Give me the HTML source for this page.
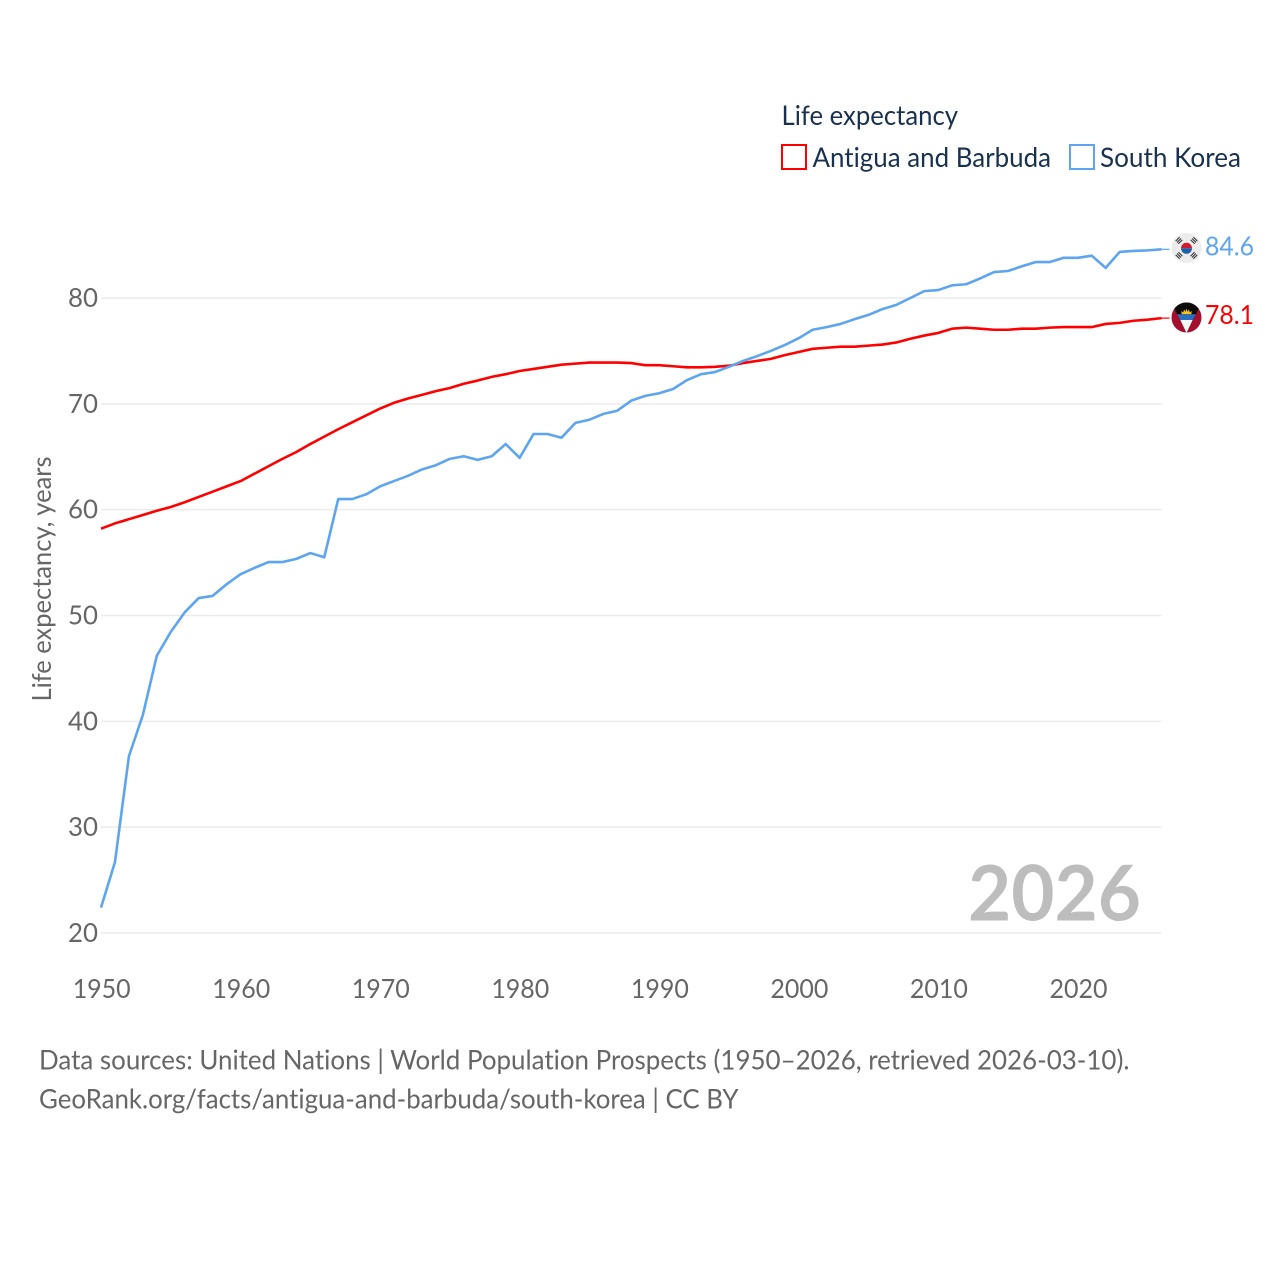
<!DOCTYPE html>
<html lang="en">
<head>
<meta charset="utf-8">
<title>Life expectancy: Antigua and Barbuda vs South Korea</title>
<style>
html,body{margin:0;padding:0;background:#fff;}
svg{display:block;}
text{font-family:"Lato","Carlito","Liberation Sans",sans-serif;font-variant-ligatures:none;}
</style>
</head>
<body>
<svg id="chart" width="1280" height="1280" viewBox="0 0 1280 1280" xmlns="http://www.w3.org/2000/svg">
  <rect width="1280" height="1280" fill="#ffffff"/>
  <g id="grid"></g>
  <g id="yticks"></g>
  <g id="xticks"></g>
  <text transform="translate(51,579) rotate(-90)" text-anchor="middle" font-size="26" fill="#666666" textLength="245" lengthAdjust="spacingAndGlyphs">Life expectancy, years</text>
  <text x="1141" y="920.500" text-anchor="end" font-size="77" font-weight="bold" fill="#bdbdbd" textLength="173" lengthAdjust="spacingAndGlyphs">2026</text>
  <g id="series"></g>

  <g>
    <text x="781.500" y="125" font-size="27" fill="#18314f" textLength="176.500" lengthAdjust="spacingAndGlyphs">Life expectancy</text>
    <rect x="782" y="145" width="24" height="24" fill="none" stroke="#ff0000" stroke-width="2"/>
    <text x="812.500" y="167" font-size="27" fill="#18314f" textLength="238.500" lengthAdjust="spacingAndGlyphs">Antigua and Barbuda</text>
    <rect x="1070" y="145" width="24" height="24" fill="none" stroke="#5da5f0" stroke-width="2"/>
    <text x="1100" y="167" font-size="27" fill="#18314f" textLength="141" lengthAdjust="spacingAndGlyphs">South Korea</text>
  </g>

  <defs>
    <clipPath id="ag-clip"><circle cx="1186.500" cy="317.500" r="15"/></clipPath>
  </defs>
  <g>
    <circle cx="1186.500" cy="248" r="15" fill="#ececec"/>
    <path d="M1181 248.300a5.500 5.500 0 0 1 11 0z" fill="#d01c2e"/>
    <path d="M1181 248.300a5.500 5.500 0 0 0 11 0z" fill="#1f5fa8"/>
    <g fill="#3a3a3a">
      <g transform="translate(1179,240.500) rotate(-45)"><rect x="-2.800" y="-2.500" width="5.600" height="1.100"/><rect x="-2.800" y="-.6" width="5.600" height="1.100"/><rect x="-2.800" y="1.300" width="5.600" height="1.100"/></g>
      <g transform="translate(1194,240.500) rotate(45)"><rect x="-2.800" y="-2.500" width="5.600" height="1.100"/><rect x="-2.800" y="-.6" width="5.600" height="1.100"/><rect x="-2.800" y="1.300" width="5.600" height="1.100"/></g>
      <g transform="translate(1179,255.500) rotate(45)"><rect x="-2.800" y="-2.500" width="5.600" height="1.100"/><rect x="-2.800" y="-.6" width="5.600" height="1.100"/><rect x="-2.800" y="1.300" width="5.600" height="1.100"/></g>
      <g transform="translate(1194,255.500) rotate(-45)"><rect x="-2.800" y="-2.500" width="5.600" height="1.100"/><rect x="-2.800" y="-.6" width="5.600" height="1.100"/><rect x="-2.800" y="1.300" width="5.600" height="1.100"/></g>
    </g>
  </g>
  <g clip-path="url(#ag-clip)">
    <rect x="1171" y="302" width="31" height="31" fill="#a50f2d"/>
    <path d="M1171 302h31l-15.500 31z" fill="#0b0b0b"/>
    <path d="M1181.700 314.300l-.5-3.300 2 1.500.9-3 1.400 2.300 1-3.300 1 3.300 1.400-2.300.9 3 2-1.500-.5 3.300z" fill="#f5c518"/>
    <path d="M1177.200 314.300h18.600l-2.900 5.700h-12.800z" fill="#2a6fc0"/>
    <path d="M1180.300 320h12.400l-6.200 13z" fill="#f4f4f4"/>
  </g>

  <g>
    <text x="39" y="1069.500" font-size="27" fill="#666666" textLength="1090.500" lengthAdjust="spacingAndGlyphs">Data sources: United Nations | World Population Prospects (1950–2026, retrieved 2026-03-10).</text>
    <text x="39" y="1108.500" font-size="27" fill="#666666" textLength="699.500" lengthAdjust="spacingAndGlyphs">GeoRank.org/facts/antigua-and-barbuda/south-korea | CC BY</text>
  </g>
</svg>
<script>
const startYear = 1950;
const xTickYears = [1950, 1960, 1970, 1980, 1990, 2000, 2010, 2020];
const yTickValues = [20, 30, 40, 50, 60, 70, 80];
const antiguaValues = [
  58.2, 58.7, 59.1, 59.5, 59.9, 60.25, 60.7, 61.2, 61.7, 62.2,
  62.7, 63.4, 64.1, 64.8, 65.45, 66.2, 66.9, 67.6, 68.25, 68.9,
  69.55, 70.1, 70.5, 70.85, 71.2, 71.5, 71.9, 72.2, 72.55, 72.8,
  73.1, 73.3, 73.5, 73.7, 73.8, 73.9, 73.9, 73.9, 73.85, 73.65,
  73.65, 73.55, 73.45, 73.45, 73.5, 73.6, 73.85, 74.05, 74.25, 74.6,
  74.9, 75.2, 75.3, 75.4, 75.4, 75.5, 75.6, 75.8, 76.15, 76.45,
  76.7, 77.1, 77.2, 77.1, 77.0, 77.0, 77.1, 77.1, 77.2, 77.25,
  77.25, 77.25, 77.55, 77.65, 77.85, 77.95, 78.1
];
const koreaValues = [
  22.4, 26.7, 36.7, 40.6, 46.2, 48.45, 50.3, 51.65, 51.85, 52.95,
  53.9, 54.5, 55.05, 55.05, 55.35, 55.9, 55.5, 61.0, 61.0, 61.45,
  62.2, 62.7, 63.2, 63.8, 64.2, 64.8, 65.05, 64.7, 65.05, 66.2,
  64.9, 67.15, 67.15, 66.8, 68.2, 68.5, 69.05, 69.35, 70.3, 70.75,
  71.0, 71.4, 72.25, 72.8, 73.0, 73.5, 74.05, 74.5, 75.0, 75.55,
  76.2, 77.0, 77.25, 77.55, 78.0, 78.4, 78.95, 79.35, 80.0, 80.65,
  80.75, 81.2, 81.3, 81.85, 82.45, 82.55, 83.0, 83.4, 83.4, 83.8,
  83.8, 84.0, 82.85, 84.35, 84.45, 84.5, 84.6
];

const NS = 'http://www.w3.org/2000/svg';
const xScale = function (year) { return 101 + (year - 1950) * (1161.5 - 101) / 76; };
const yScale = function (value) { return 933 - (value - 20) * (933 - 298) / 60; };
const make = function (tag, parent) {
  const el = document.createElementNS(NS, tag);
  parent.appendChild(el);
  return el;
};

const gridGroup = document.getElementById('grid');
const yTickGroup = document.getElementById('yticks');
const xTickGroup = document.getElementById('xticks');
const seriesGroup = document.getElementById('series');
const chartRoot = document.getElementById('chart');
const lastYear = startYear + antiguaValues.length - 1;

yTickValues.forEach(function (v) {
  const line = make('line', gridGroup);
  
  
  line.setAttribute('x1', xScale(1950));
  line.setAttribute('x2', xScale(lastYear));
  line.setAttribute('y1', yScale(v));
  line.setAttribute('y2', yScale(v));
  line.setAttribute('stroke', '#ebebeb');
  line.setAttribute('stroke-width', '1.5');

  const label = make('text', yTickGroup);
  
  
  label.setAttribute('x', 98);
  label.setAttribute('y', yScale(v) + 9);
  label.setAttribute('text-anchor', 'end');
  label.setAttribute('font-size', '26.5');
  label.setAttribute('fill', '#666666');
  label.setAttribute('textLength', '30');
  label.setAttribute('lengthAdjust', 'spacingAndGlyphs');
  label.textContent = v;
});

xTickYears.forEach(function (y) {
  const label = make('text', xTickGroup);
  
  
  label.setAttribute('x', xScale(y) + 0.7);
  label.setAttribute('y', 998);
  label.setAttribute('text-anchor', 'middle');
  label.setAttribute('font-size', '26.5');
  label.setAttribute('fill', '#666666');
  label.setAttribute('textLength', '58');
  label.setAttribute('lengthAdjust', 'spacingAndGlyphs');
  label.textContent = y;
});

const drawSeries = function (values, color, name) {
  const path = make('path', seriesGroup);
  
  
  path.setAttribute('d', values.map(function (v, i) {
    return (i ? 'L' : 'M') + xScale(startYear + i).toFixed(2) + ' ' + yScale(v).toFixed(2);
  }).join(''));
  path.setAttribute('fill', 'none');
  path.setAttribute('stroke', color);
  path.setAttribute('stroke-width', '2.6');
  path.setAttribute('stroke-linejoin', 'round');

  const last = values[values.length - 1];
  const leader = make('line', seriesGroup);
  
  
  leader.setAttribute('x1', xScale(lastYear));
  leader.setAttribute('x2', xScale(lastYear) + 8);
  leader.setAttribute('y1', yScale(last));
  leader.setAttribute('y2', yScale(last));
  leader.setAttribute('stroke', color);
  leader.setAttribute('stroke-width', '1.2');

  const valueLabel = make('text', chartRoot);
  
  
  valueLabel.setAttribute('x', 1205);
  valueLabel.setAttribute('y', yScale(last) + 6);
  valueLabel.setAttribute('font-size', '26.5');
  valueLabel.setAttribute('fill', color);
  valueLabel.setAttribute('textLength', '49');
  valueLabel.setAttribute('lengthAdjust', 'spacingAndGlyphs');
  valueLabel.textContent = last.toFixed(1);
};

drawSeries(antiguaValues, '#ff0000', 'antigua');
drawSeries(koreaValues, '#5da5f0', 'south-korea');
</script>
</body>
</html>
